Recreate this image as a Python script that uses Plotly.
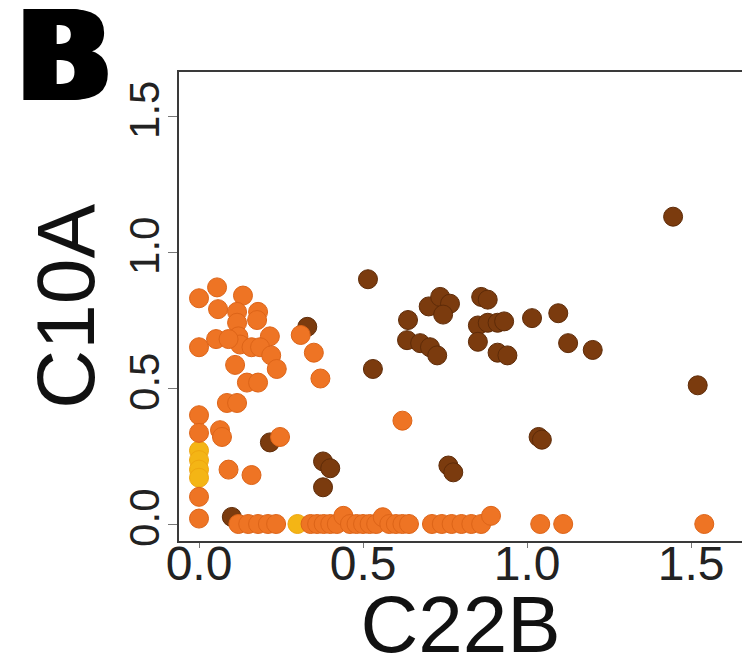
import plotly.graph_objects as go

# ---- data ----
brown_x = [0.10, 0.216, 0.33, 0.378, 0.40, 0.378, 0.515, 0.53, 0.637, 0.634, 0.674, 0.704,
           0.726, 0.70, 0.735, 0.765, 0.744, 0.76, 0.775, 0.86, 0.88, 0.85, 0.88, 0.91,
           0.93, 0.85, 0.91, 0.94, 1.015, 1.095, 1.125, 1.20, 1.035, 1.045, 1.445, 1.52]
brown_y = [0.026, 0.30, 0.725, 0.23, 0.205, 0.135, 0.90, 0.57, 0.75, 0.676, 0.665, 0.65,
           0.62, 0.80, 0.835, 0.81, 0.77, 0.215, 0.19, 0.835, 0.825, 0.73, 0.74, 0.74,
           0.745, 0.67, 0.63, 0.62, 0.757, 0.775, 0.665, 0.64, 0.32, 0.31, 1.13, 0.51]

yellow_x = [0.0, 0.0, 0.0, 0.0, 0.30]
yellow_y = [0.27, 0.235, 0.20, 0.17, 0.0]

orange_x = [0.0, 0.0, 0.0, 0.0, 0.0, 0.0,
            0.055, 0.058, 0.134, 0.116, 0.116, 0.12, 0.125, 0.18, 0.177, 0.052, 0.09,
            0.16, 0.216, 0.186, 0.22, 0.237, 0.11, 0.146, 0.18, 0.085, 0.116, 0.064,
            0.07, 0.09, 0.16, 0.247, 0.31, 0.35, 0.37, 0.62,
            0.12, 0.15, 0.18, 0.21, 0.235, 0.34, 0.36, 0.38, 0.40, 0.42, 0.44, 0.46,
            0.48, 0.50, 0.52, 0.54, 0.56, 0.58, 0.60, 0.62, 0.64, 0.71, 0.74, 0.77,
            0.80, 0.83, 0.86, 0.89, 1.04, 1.11, 1.54]
orange_y = [0.83, 0.65, 0.40, 0.335, 0.10, 0.02,
            0.87, 0.79, 0.84, 0.78, 0.74, 0.69, 0.66, 0.78, 0.75, 0.68, 0.68,
            0.65, 0.69, 0.65, 0.62, 0.57, 0.585, 0.52, 0.52, 0.445, 0.445, 0.345,
            0.32, 0.20, 0.18, 0.32, 0.695, 0.63, 0.535, 0.38,
            0.0, 0.0, 0.0, 0.0, 0.0, 0.0, 0.0, 0.0, 0.0, 0.0, 0.03, 0.0,
            0.0, 0.0, 0.0, 0.0, 0.025, 0.0, 0.0, 0.0, 0.0, 0.0, 0.0, 0.0,
            0.0, 0.0, 0.0, 0.03, 0.0, 0.0, 0.0]

tick_vals = [0.0, 0.5, 1.0, 1.5]
tick_text = ["0.0", "0.5", "1.0", "1.5"]

FONT = "Liberation Sans, Arial, sans-serif"

fig = go.Figure()
for xs, ys, col, edge in [(brown_x, brown_y, "#7B3B0E", "#5E2B08"),
                          (yellow_x, yellow_y, "#F4B515", "#EFA60F"),
                          (orange_x, orange_y, "#EE7424", "#DD6418")]:
    fig.add_trace(go.Scatter(x=xs, y=ys, mode="markers",
                             marker=dict(size=19, color=col, line=dict(width=1, color=edge)),
                             showlegend=False))

fig.update_layout(
    width=742, height=669,
    margin=dict(l=179, r=0, t=72, b=128),
    paper_bgcolor="white", plot_bgcolor="white",
    font=dict(family=FONT, color="#111"),
    xaxis=dict(range=[-0.061, 1.655], tickvals=tick_vals, ticktext=tick_text,
               automargin=False,
               showgrid=False, zeroline=False, showline=True, linecolor="#3a3a3a",
               linewidth=2, mirror=True, ticks="outside", ticklen=5, tickcolor="#777",
               tickfont=dict(size=48, color="#222"), ticklabelstandoff=-26,
               title=dict(text="C22B", font=dict(size=80, color="#111"), standoff=12)),
    yaxis=dict(range=[-0.0625, 1.662], tickvals=tick_vals, ticktext=tick_text,
               automargin=False,
               showgrid=False, zeroline=False, showline=True, linecolor="#3a3a3a",
               linewidth=2, ticks="outside", ticklen=9, tickcolor="#777",
               tickangle=-90, tickfont=dict(size=42, color="#222"), ticklabelstandoff=-8,
               title=dict(text="C10A", font=dict(size=82, color="#111"), standoff=0)),
)

shadow = ", ".join(f"{d}px 0px 0px #000" for d in range(2, 11, 2))
fig.add_annotation(text="<b>B</b>", xref="paper", yref="paper",
                   x=(10 - 179) / 563, y=1 + (72 + 17) / 469,
                   xanchor="left", yanchor="top", showarrow=False,
                   font=dict(size=124, family="DejaVu Sans", color="#000", shadow=shadow))

fig.write_html("out.html")
